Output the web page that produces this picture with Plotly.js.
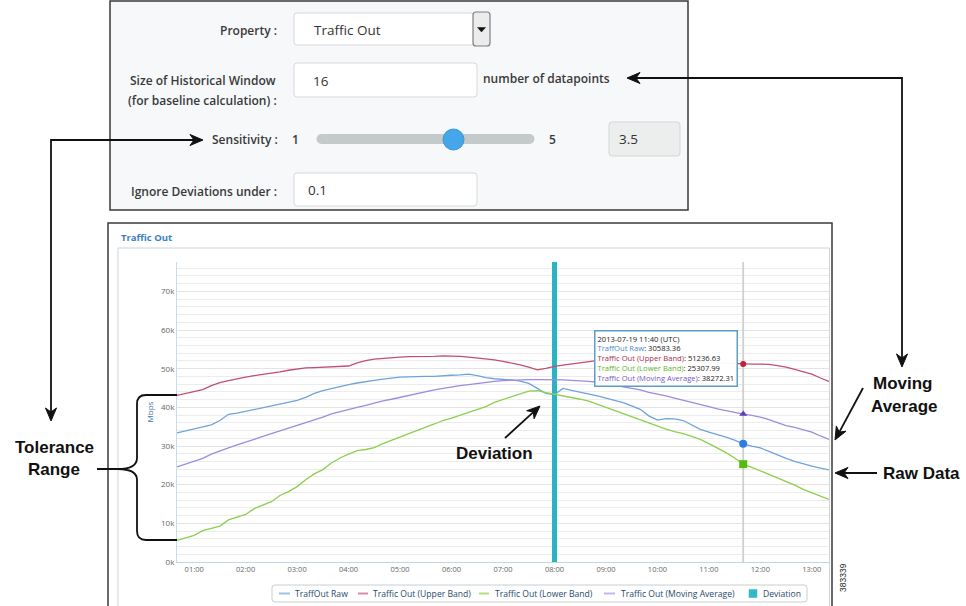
<!DOCTYPE html>
<html><head><meta charset="utf-8">
<script src="https://cdn.plot.ly/plotly-3.0.1.min.js"></script>
<style>html,body{margin:0;padding:0;background:#fff;}#chart{width:966px;height:606px;}</style>
</head><body><div id="chart"></div>
<script>
// ---------------- data (values in thousands) ----------------
const day = '2013-07-19 ';
const times = ['00:40','00:50',
 '01:00','01:10','01:20','01:30','01:40','01:50',
 '02:00','02:10','02:20','02:30','02:40','02:50',
 '03:00','03:10','03:20','03:30','03:40','03:50',
 '04:00','04:10','04:20','04:30','04:40','04:50',
 '05:00','05:10','05:20','05:30','05:40','05:50',
 '06:00','06:10','06:20','06:30','06:40','06:50',
 '07:00','07:10','07:20','07:30','07:40','07:50',
 '08:00','08:10','08:20','08:30','08:40','08:50',
 '09:00','09:10','09:20','09:30','09:40','09:50',
 '10:00','10:10','10:20','10:30','10:40','10:50',
 '11:00','11:10','11:20','11:30','11:40','11:50',
 '12:00','12:10','12:20','12:30','12:40','12:50',
 '13:00','13:10','13:20'];
const trafficRaw = [33.4,33.9,
 34.4,34.8,35.5,36.6,38.2,38.5,
 39.0,39.4,39.9,40.3,40.8,41.4,
 41.8,42.6,43.6,44.3,44.9,45.4,
 45.9,46.3,46.7,47.0,47.3,47.6,
 47.8,47.9,48.0,48.0,48.0,48.2,
 48.3,48.4,48.6,48.2,47.7,47.4,
 47.3,47.1,46.8,46.2,44.9,43.6,
 43.3,44.9,44.4,44.0,43.5,43.0,
 42.4,41.9,41.2,40.4,39.5,37.8,
 36.7,37.1,37.0,36.6,35.5,34.3,
 33.6,33.0,32.3,31.5,30.58,30.0,
 29.5,28.6,27.6,26.8,26.0,25.3,
 24.8,24.3,23.8];
const upperBand = [43.1,43.6,
 44.1,44.6,45.6,46.4,46.9,47.4,
 47.8,48.2,48.5,48.9,49.2,49.6,
 49.9,50.2,50.3,50.4,50.5,50.6,
 50.7,51.5,52.1,52.5,52.7,52.9,
 53.0,53.1,53.1,53.2,53.2,53.3,
 53.3,53.2,53.0,52.8,52.6,52.3,
 51.9,51.5,51.0,50.4,49.7,50.1,
 50.6,50.9,51.2,51.6,51.9,52.1,
 52.4,52.6,52.6,52.4,52.3,52.3,
 52.3,52.2,52.2,52.1,52.0,51.8,
 51.7,51.5,51.4,51.3,51.24,51.2,
 51.2,51.1,50.8,50.4,49.8,49.2,
 48.6,47.6,46.7];
const lowerBand = [5.6,6.2,
 6.9,8.1,8.7,9.3,10.9,11.7,
 12.3,13.8,14.6,15.6,17.2,18.2,
 19.5,21.3,22.8,23.9,25.6,26.9,
 27.9,28.8,29.1,29.6,30.6,31.5,
 32.3,33.2,34.1,34.9,35.7,36.6,
 37.2,37.9,38.6,39.3,40.2,41.3,
 42.1,42.8,43.5,44.2,44.3,43.8,
 43.4,43.1,42.6,42.1,41.6,40.8,
 40.0,39.2,38.3,37.4,36.6,35.8,
 35.1,34.4,33.7,33.2,32.5,31.7,
 30.6,29.5,28.3,26.9,25.31,24.5,
 23.6,22.6,21.7,20.8,19.9,18.8,
 17.9,17.0,16.2];
const movingAverage = [24.6,25.3,
 25.9,26.8,27.9,28.8,29.5,30.3,
 30.9,31.7,32.5,33.2,33.9,34.6,
 35.2,36.0,36.7,37.5,38.3,38.9,
 39.5,40.0,40.5,41.2,41.7,42.1,
 42.6,43.1,43.6,44.1,44.5,44.9,
 45.3,45.6,45.9,46.2,46.4,46.7,
 46.9,47.0,47.2,47.2,47.2,47.2,
 47.2,47.1,47.0,46.9,46.7,46.5,
 46.2,45.8,45.3,44.9,44.5,43.9,
 43.5,43.0,42.4,41.9,41.3,40.7,
 40.2,39.6,39.1,38.7,38.27,37.9,
 37.5,36.8,36.0,35.3,34.8,34.1,
 33.6,32.6,31.7];
const deviationTimes = ['08:00'];
const deviationValues = [80];
const hoverTime = '11:40';
const hoverValues = [30583.36, 51236.63, 25307.99, 38272.31]; // raw, upper, lower, moving avg
const seriesNames = ['TraffOut Raw','Traffic Out (Upper Band)','Traffic Out (Lower Band)','Traffic Out (Moving Average)','Deviation'];
const yTickValues = [0,10,20,30,40,50,60,70];
const yMax = 77.6;
const xTickLabels = ['01:00','02:00','03:00','04:00','05:00','06:00','07:00','08:00','09:00','10:00','11:00','12:00','13:00'];

// ---------------- styles ----------------
const lineColors = ['#6fa3dc','#c0506e','#8ccf4d','#a08ae0'];
const legendColors = ['#9cc3ea','#d88da0','#b2e07f','#c3b6ee','#33b8c6'];
const markerColors = ['#2f7de0','#c0203a','#55bb10','#5a3fc0'];
const markerSymbols = ['circle','circle','square','triangle-up'];
const markerSizes = [8,6,8,7];
const devColor = '#2ab3c2';

const W = 966, H = 606;
const px = x => x / W, py = y => 1 - y / H;
const shapes = [], ann = [];
const FF = 'Open Sans, Noto Sans, sans-serif';

function toPaper(d){ let i = 0; return d.replace(/-?\d+(\.\d+)?/g, m => { const v = parseFloat(m); const r = (i % 2 === 0) ? px(v) : py(v); i++; return r.toFixed(6); }); }
function pathShape(d, color, width, fill, layer){ shapes.push({type:'path', xref:'paper', yref:'paper', path: toPaper(d), line:{color:color, width:width}, fillcolor: fill || 'rgba(0,0,0,0)', layer: layer || 'above'}); }
function rrect(x0,y0,x1,y1,r,fill,line,lw,layer){
  const d = `M ${x0+r} ${y0} L ${x1-r} ${y0} Q ${x1} ${y0} ${x1} ${y0+r} L ${x1} ${y1-r} Q ${x1} ${y1} ${x1-r} ${y1} L ${x0+r} ${y1} Q ${x0} ${y1} ${x0} ${y1-r} L ${x0} ${y0+r} Q ${x0} ${y0} ${x0+r} ${y0} Z`;
  shapes.push({type:'path', xref:'paper', yref:'paper', path: toPaper(d), line:{color:line, width:lw}, fillcolor: fill, layer: layer || 'below'});
}
function rect(x0,y0,x1,y1,fill,line,lw,layer){ shapes.push({type:'rect', xref:'paper', yref:'paper', x0:px(x0), x1:px(x1), y0:py(y1), y1:py(y0), fillcolor:fill, line:{color:line, width:lw}, layer: layer || 'below'}); }
function circle(cx,cy,r,fill,line,layer){ shapes.push({type:'circle', xref:'paper', yref:'paper', x0:px(cx-r), x1:px(cx+r), y0:py(cy+r), y1:py(cy-r), fillcolor:fill, line:{color:line, width:line==='rgba(0,0,0,0)'?0:1}, layer: layer || 'below'}); }
function text(t,x,y,opts){ opts = opts || {}; ann.push({xref:'paper', yref:'paper', x:px(x), y:py(y), text:t, showarrow:false, xanchor: opts.xa || 'left', yanchor: opts.ya || 'middle', textangle: opts.angle || 0, align: opts.align || 'left', font:{family: opts.family || FF, size: opts.size || 12, color: opts.color || '#333', weight: opts.weight || 400}}); }
function arrowHead(tx,ty,deg){
  const a = deg*Math.PI/180, dx = Math.cos(a), dy = Math.sin(a), nx = -dy, ny = dx;
  const len = 13, wid = 5.5, notch = 4;
  const bx = tx - dx*len, by = ty - dy*len;
  const d = `M ${tx} ${ty} L ${bx+nx*wid} ${by+ny*wid} L ${tx-dx*(len-notch)} ${ty-dy*(len-notch)} L ${bx-nx*wid} ${by-ny*wid} Z`;
  pathShape(d, '#111', 1, '#111', 'above');
}

// ---------------- form panel ----------------
rect(110,1,688,210,'#f6f8f9','#3a3a3a',1.5);
const lab = {size:12, weight:600, color:'#3a3a3a', xa:'right'};
text('Property :',279,30,lab);
rrect(294,13,474,45,3,'#ffffff','#d6d9dc',1);
rrect(473,12,490,46,3,'#ececec','#7d8084',1.2);
pathShape('M 477.5 27.5 L 485.5 27.5 L 481.5 32 Z','#111',0.5,'#111','below');
text('Traffic Out',312,30,{size:13.5});
text('Size of Historical Window',278,80,lab);
text('(for baseline calculation) :',279,100,lab);
rrect(294,63,477,97,3,'#ffffff','#d6d9dc',1);
text('16',311,81,{size:13.5});
text('number of datapoints',481,79,{size:12, weight:600, color:'#3a3a3a'});
text('Sensitivity :',280,139,lab);
text('1',295,139,{size:12, weight:600, color:'#3a3a3a', xa:'center'});
rect(321.5,134,529.5,144,'#c4caca','rgba(0,0,0,0)',0);
circle(321.5,139,5,'#c4caca','rgba(0,0,0,0)');
circle(529.5,139,5,'#c4caca','rgba(0,0,0,0)');
circle(453.5,139.5,10.5,'#45a6ea','#3c98d8');
text('5',552,139,{size:12, weight:600, color:'#3a3a3a', xa:'center'});
rrect(609,122,680,156,3,'#eceeee','#d3d6d8',1);
text('3.5',617,139,{size:13.5});
text('Ignore Deviations under :',279,191,lab);
rrect(294,173,477,206,3,'#ffffff','#d6d9dc',1);
text('0.1',306,190,{size:13.5});

// ---------------- chart panel ----------------
rect(108,223,832,640,'#ffffff','#3a3a3a',1.5);
rect(118,248,829.5,640,'#ffffff','#cdd5d9',1);
text('Traffic Out',118.5,237,{size:9.5, weight:700, color:'#3d7fc4'});

// tooltip
const tipLines = [
  day + hoverTime + ' (UTC)',
  `<span style="color:#4a88d0">${seriesNames[0]}</span>: ${hoverValues[0].toFixed(2)}`,
  `<span style="color:#a8304e">${seriesNames[1]}</span>: ${hoverValues[1].toFixed(2)}`,
  `<span style="color:#5cb82a">${seriesNames[2]}</span>: ${hoverValues[2].toFixed(2)}`,
  `<span style="color:#7558c8">${seriesNames[3]}</span>: ${hoverValues[3].toFixed(2)}`
];
ann.push({xref:'paper', yref:'paper', x:px(594), y:py(330), xanchor:'left', yanchor:'top', align:'left', showarrow:false,
  text: tipLines.join('<br>'), bgcolor:'rgba(255,255,255,0.96)', bordercolor:'#5d9ec4', borderwidth:1.5, borderpad:2,
  font:{family:FF, size:7.6, color:'#222'}});

// custom legend
rrect(272,585,807,602,3,'#ffffff','#c8cdd0',1,'above');
const legendPos = [[279,290,293],[358,368,371],[479,489,493],[604,615,619],[749,757,761]];
seriesNames.forEach((n,i) => {
  const p = legendPos[i];
  if (i < 4) pathShape(`M ${p[0]} 593.5 L ${p[1]} 593.5`, legendColors[i], 2, null, 'above');
  else rect(p[0],589.5,p[1],597.5,legendColors[i],legendColors[i],0.5,'above');
  text(n, p[2], 593.5, {size:8.6, color:'#274b6d'});
});

// figure number
text('383339',843,578,{size:8.5, color:'#222', xa:'center', angle:-90, family:'Liberation Sans, Arial, sans-serif'});

// ---------------- callouts ----------------
const CO = {size:17, weight:700, color:'#111', family:'Liberation Sans, Arial, sans-serif', xa:'center'};
pathShape('M 194 140 L 51 140 L 51 412', '#111', 1.8);
arrowHead(203,140,0);
arrowHead(51,421,90);
text('Tolerance',54,447,CO);
text('Range',54,469,CO);
pathShape('M 97 469 L 118 469 Q 137 469 137 480 L 137 531 Q 137 540 146 540 L 177 540 M 118 469 Q 137 469 137 458 L 137 404 Q 137 395 146 395 L 177 395', '#111', 1.8);
text('Deviation',494,453,CO);
pathShape('M 505 438 L 533.3 412.1', '#111', 1.8);
arrowHead(540,406,-42.4);
pathShape('M 636 78 L 902 78 L 902 358', '#111', 1.8);
arrowHead(627,78,180);
arrowHead(902,367,90);
text('Moving',903,383,CO);
text('Average',904,406,CO);
pathShape('M 863 388 L 839.3 432.1', '#111', 1.8);
arrowHead(835,440,118.3);
text('Raw Data',921,473,CO);
pathShape('M 877 473 L 844 473', '#111', 1.8);
arrowHead(835,473,180);

// ---------------- traces ----------------
const X = times.map(t => day + t);
const series = [trafficRaw, upperBand, lowerBand, movingAverage];
const data = [];
data.push({type:'bar', x: deviationTimes.map(t => day + t), y: deviationValues, width: 330000, name: seriesNames[4], marker:{color: devColor}, hoverinfo:'skip', showlegend:false});
// hover crosshair at the hovered time
data.push({type:'scatter', mode:'lines', x:[day+hoverTime, day+hoverTime], y:[0, yMax], line:{color:'#cfcfcf', width:1.8}, hoverinfo:'skip', showlegend:false});
series.forEach((s,i) => data.push({type:'scatter', mode:'lines', x: X, y: s, name: seriesNames[i], line:{color: lineColors[i], width:1.3}, hoverinfo:'skip', showlegend:false}));
hoverValues.forEach((v,i) => data.push({type:'scatter', mode:'markers', x:[day+hoverTime], y:[v/1000], marker:{color: markerColors[i], symbol: markerSymbols[i], size: markerSizes[i], line:{width:0}}, hoverinfo:'skip', showlegend:false}));

const layout = {
  width: W, height: H,
  margin:{l:0, r:0, t:0, b:0},
  paper_bgcolor:'#ffffff', plot_bgcolor:'rgba(0,0,0,0)',
  font:{family:FF, size:8, color:'#666'},
  showlegend:false,
  bargap:0,
  xaxis:{type:'date', domain:[px(177), px(829)], range:[day+'00:40', day+'13:20'],
    tickvals: xTickLabels.map(t => day + t), ticktext: xTickLabels,
    showgrid:false, zeroline:false, showline:true, linecolor:'#c3d5e3', linewidth:1,
    ticks:'', tickfont:{size:7.5, color:'#666'}, fixedrange:true},
  yaxis:{domain:[py(562), py(262)], range:[0, yMax],
    tickvals: yTickValues, ticktext: yTickValues.map(v => v + 'k'),
    showgrid:true, gridcolor:'#e4e4e4', gridwidth:1, zeroline:false,
    showline:true, linecolor:'#c8dcea', linewidth:1, ticks:'', tickfont:{size:8, color:'#666'},
    minor:{dtick:2, showgrid:true, gridcolor:'#ececec', gridwidth:1},
    title:{text:'Mbps', font:{size:8, color:'#4572a7'}, standoff:6}, fixedrange:true},
  shapes: shapes,
  annotations: ann
};
Plotly.newPlot('chart', data, layout, {displayModeBar:false, staticPlot:true});
</script></body></html>
